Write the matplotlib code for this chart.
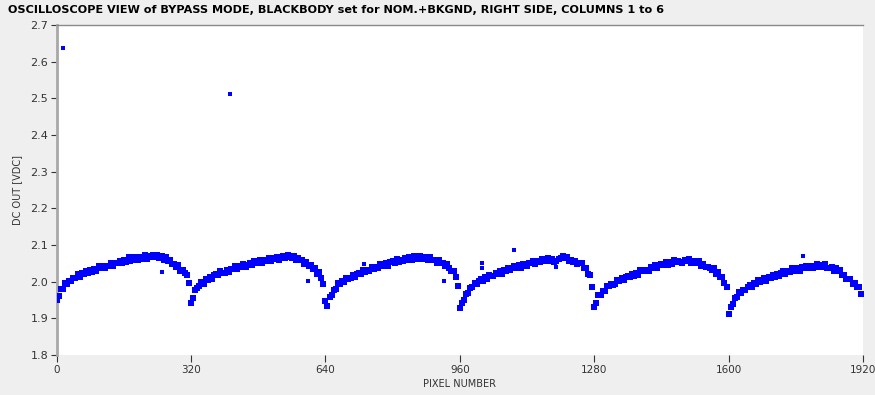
import numpy as np
import matplotlib.pyplot as plt

# ---------------------------------------------------------------
# data: DC output read every 5 pixels, one list per column (320 px each)
col_width = 320
step = 5

col1 = [1.949, 1.961, 1.981, 1.981, 1.996, 1.994, 2.003, 2.001, 2.010, 2.009, 2.020, 2.013,
        2.023, 2.022, 2.029, 2.024, 2.033, 2.027, 2.035, 2.030, 2.042, 2.037, 2.044, 2.038,
        2.044, 2.042, 2.051, 2.042, 2.051, 2.050, 2.056, 2.051, 2.059, 2.053, 2.060, 2.055,
        2.066, 2.060, 2.066, 2.060, 2.066, 2.063, 2.072, 2.063, 2.070, 2.068, 2.074, 2.067,
        2.074, 2.065, 2.069, 2.059, 2.066, 2.056, 2.058, 2.048, 2.049, 2.041, 2.045, 2.030,
        2.031, 2.023, 2.018, 1.997]
col2 = [1.942, 1.956, 1.978, 1.983, 1.988, 1.999, 1.994, 2.006, 2.005, 2.014, 2.008, 2.017,
        2.022, 2.018, 2.028, 2.024, 2.024, 2.033, 2.026, 2.035, 2.034, 2.042, 2.034, 2.043,
        2.039, 2.047, 2.039, 2.046, 2.050, 2.046, 2.055, 2.051, 2.050, 2.059, 2.051, 2.060,
        2.057, 2.064, 2.057, 2.065, 2.062, 2.068, 2.060, 2.067, 2.069, 2.064, 2.073, 2.067,
        2.065, 2.071, 2.060, 2.064, 2.058, 2.059, 2.049, 2.053, 2.044, 2.046, 2.034, 2.037,
        2.022, 2.025, 2.011, 1.994]
col3 = [1.947, 1.933, 1.958, 1.963, 1.978, 1.980, 1.995, 1.993, 2.002, 1.999, 2.011, 2.008,
        2.009, 2.019, 2.013, 2.022, 2.024, 2.020, 2.032, 2.026, 2.032, 2.028, 2.039, 2.035,
        2.041, 2.036, 2.047, 2.043, 2.042, 2.051, 2.044, 2.053, 2.055, 2.050, 2.061, 2.054,
        2.059, 2.055, 2.065, 2.060, 2.066, 2.060, 2.070, 2.064, 2.063, 2.070, 2.061, 2.068,
        2.068, 2.060, 2.068, 2.058, 2.060, 2.052, 2.059, 2.050, 2.052, 2.042, 2.047, 2.037,
        2.030, 2.029, 2.012, 1.988]
col4 = [1.929, 1.943, 1.949, 1.966, 1.969, 1.983, 1.985, 1.996, 1.993, 2.001, 2.008, 2.002,
        2.012, 2.007, 2.017, 2.016, 2.015, 2.024, 2.022, 2.030, 2.022, 2.031, 2.029, 2.037,
        2.032, 2.038, 2.044, 2.036, 2.045, 2.038, 2.047, 2.045, 2.044, 2.052, 2.050, 2.057,
        2.048, 2.057, 2.054, 2.061, 2.055, 2.060, 2.065, 2.057, 2.063, 2.053, 2.057, 2.061,
        2.064, 2.071, 2.065, 2.067, 2.055, 2.060, 2.054, 2.057, 2.048, 2.050, 2.050, 2.036,
        2.037, 2.022, 2.019, 1.986]
col5 = [1.931, 1.943, 1.963, 1.963, 1.975, 1.975, 1.989, 1.988, 1.994, 1.992, 1.993, 2.005,
        2.002, 2.011, 2.005, 2.012, 2.016, 2.013, 2.022, 2.016, 2.023, 2.019, 2.031, 2.028,
        2.033, 2.030, 2.030, 2.041, 2.037, 2.046, 2.038, 2.045, 2.049, 2.045, 2.054, 2.046,
        2.053, 2.048, 2.058, 2.054, 2.057, 2.053, 2.051, 2.060, 2.055, 2.061, 2.052, 2.056,
        2.057, 2.050, 2.055, 2.042, 2.049, 2.041, 2.041, 2.038, 2.032, 2.036, 2.022, 2.026,
        2.012, 2.013, 1.995, 1.986]
col6 = [1.913, 1.932, 1.938, 1.955, 1.958, 1.972, 1.969, 1.978, 1.976, 1.985, 1.990, 1.985,
        1.995, 1.994, 2.004, 1.998, 2.001, 2.010, 2.003, 2.013, 2.011, 2.019, 2.013, 2.020,
        2.016, 2.023, 2.028, 2.021, 2.030, 2.027, 2.036, 2.029, 2.031, 2.038, 2.030, 2.039,
        2.036, 2.043, 2.036, 2.042, 2.037, 2.043, 2.047, 2.039, 2.046, 2.041, 2.047, 2.038,
        2.037, 2.041, 2.030, 2.038, 2.029, 2.031, 2.018, 2.018, 2.008, 2.008, 2.007, 1.993,
        1.996, 1.985, 1.985, 1.965]
columns = [col1, col2, col3, col4, col5, col6]

# stray samples off the main curves
odd_px = [16, 171, 250, 412, 598, 731, 923, 1012, 1014, 1090, 1190, 1776]
odd_v = [2.636, 2.070, 2.025, 2.513, 2.003, 2.047, 2.003, 2.038, 2.051, 2.086, 2.041, 2.071]

x_ticks = [0, 320, 640, 960, 1280, 1600, 1920]
y_ticks = [1.8, 1.9, 2.0, 2.1, 2.2, 2.3, 2.4, 2.5, 2.6, 2.7]

# ---------------------------------------------------------------
px, dc = [], []
for i, col in enumerate(columns):
    px.extend(i * col_width + np.arange(len(col)) * step)
    dc.extend(col)

bg = '#efefef'
fig = plt.figure(figsize=(8.75, 3.95), dpi=100, facecolor=bg)
ax = fig.add_axes([0.0646, 0.1013, 0.9218, 0.8354])
ax.set_facecolor('white')

# dense band (drawn a bit fatter to mimic the overlapping samples)
ax.scatter(px, dc, marker='s', s=13, color='#0000ff', linewidths=0, zorder=3)
# isolated samples
ax.scatter(odd_px, odd_v, marker='s', s=7, color='#0000ff', linewidths=0, zorder=3)

ax.set_xlim(0, 1920)
ax.set_ylim(1.8, 2.7)
ax.set_xticks(x_ticks)
ax.set_yticks(y_ticks)
ax.set_yticklabels([f"{v:.1f}" for v in y_ticks])

for side in ['right', 'bottom']:
    ax.spines[side].set_visible(False)
ax.spines['left'].set_color('#a8a8a8')
ax.spines['left'].set_linewidth(2.0)
ax.spines['top'].set_color('#8a8a8a')
ax.spines['top'].set_linewidth(1.0)

ax.tick_params(axis='both', labelsize=8, colors='#333333', length=4, width=0.8, pad=2)
ax.tick_params(axis='x', length=5, labelsize=7.5)

ax.set_xlabel("PIXEL NUMBER", fontsize=7, color='#333333', labelpad=3)
ax.set_ylabel("DC OUT [VDC]", fontsize=7, color='#333333', labelpad=6)

fig.text(0.009, 0.975, "OSCILLOSCOPE VIEW of BYPASS MODE, BLACKBODY set for NOM.+BKGND, RIGHT SIDE, COLUMNS 1 to 6",
         fontsize=8.15, fontweight='bold', color='black', ha='left', va='center')

fig.savefig("out.png", dpi=100, facecolor=bg)
